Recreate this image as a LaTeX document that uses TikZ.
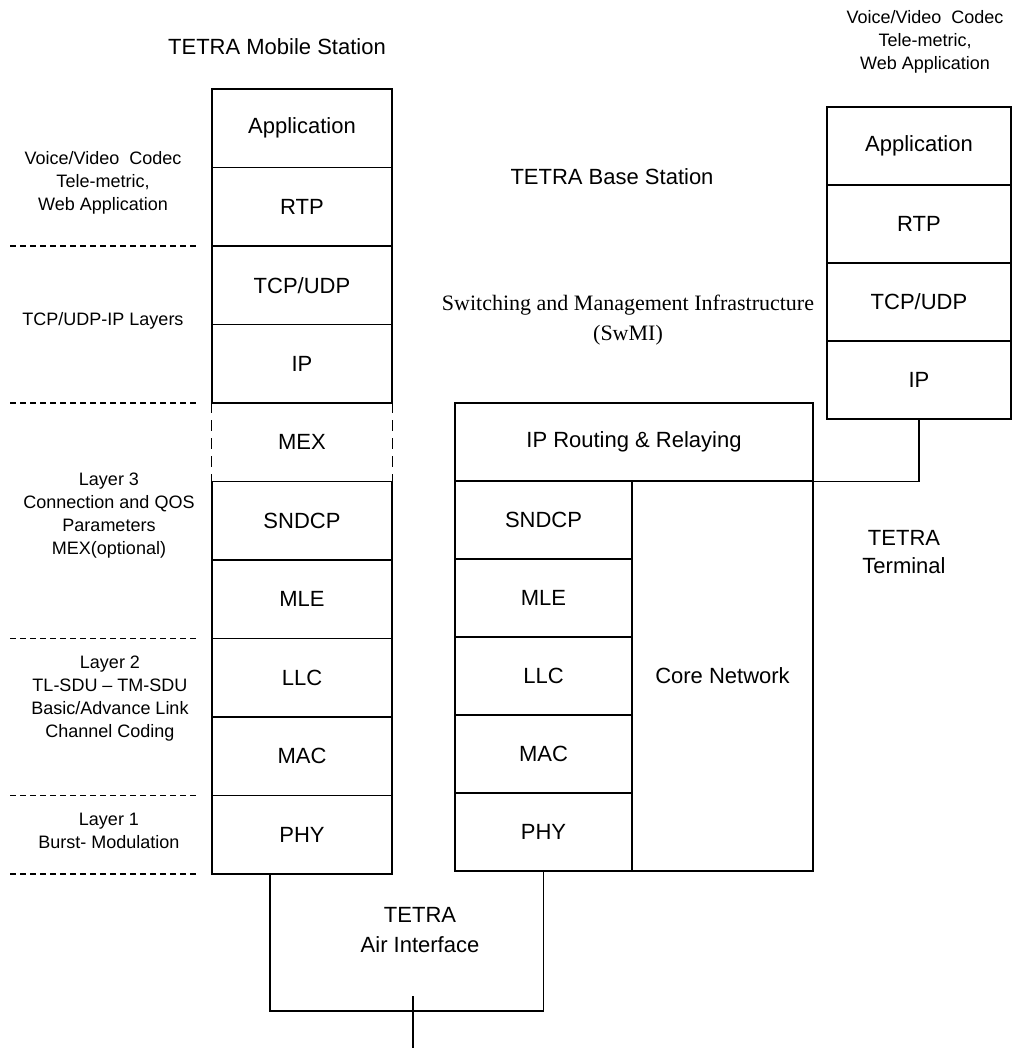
\documentclass[tikz,border=0pt]{standalone}
\usepackage{fontspec}
\setmainfont{Liberation Sans}
\newfontfamily\serifface{Liberation Serif}
\begin{document}
\begin{tikzpicture}[x=1pt,y=-1pt,
  box/.style={line width=1.3pt, inner sep=0pt, align=center, font=\fontsize{22}{26}\selectfont},
  mlayer/.style={box, draw, minimum width=180pt, minimum height=78.5pt},
  blayer/.style={box, draw, minimum width=177pt, minimum height=78pt},
  tlayer/.style={box, draw, minimum width=184pt, minimum height=78pt},
  side/.style={inner sep=0pt, align=center, font=\fontsize{18}{23}\selectfont},
  title/.style={inner sep=0pt, align=center, font=\fontsize{22}{29}\selectfont},
  sep/.style={line width=1.2pt, dash pattern=on 6pt off 4pt},
  wire/.style={line width=1.2pt}
]
\useasboundingbox (0,0) rectangle (1016,1048);

% ---------------- Mobile station stack ----------------
\node[mlayer] (mapp) at (302,128.25) {Application};
\node[mlayer] (mrtp) at (302,206.75) {RTP};
\node[mlayer] (mtcp) at (302,285.25) {TCP/UDP};
\node[mlayer] (mip)  at (302,363.75) {IP};
\node[box, minimum width=180pt, minimum height=78.5pt] (mmex) at (302,442.25) {MEX};
\draw[line width=1.3pt, dash pattern=on 11pt off 7pt] (mmex.north west) -- (mmex.south west);
\draw[line width=1.3pt, dash pattern=on 11pt off 7pt] (mmex.north east) -- (mmex.south east);
\node[mlayer] (msnd) at (302,520.75) {SNDCP};
\node[mlayer] (mmle) at (302,599.25) {MLE};
\node[mlayer] (mllc) at (302,677.75) {LLC};
\node[mlayer] (mmac) at (302,756.25) {MAC};
\node[mlayer] (mphy) at (302,834.75) {PHY};

% separators
\draw[sep] (10,246) -- (198,246);
\draw[sep] (10,403) -- (198,403);
\draw[sep] (10,638.5) -- (198,638.5);
\draw[sep] (10,795.5) -- (198,795.5);
\draw[sep] (10,874) -- (198,874);

% side texts
\node[title] (mtitle) at (277,47) {TETRA Mobile Station};
\node[side] (tapp) at (103,183) {Voice/Video\ \ Codec\\Tele-metric,\\Web Application};
\node[side] (ttcp) at (103,321) {TCP/UDP-IP Layers};
\node[side] (tl3) at (109,516) {Layer 3\\Connection and QOS\\Parameters\\MEX(optional)};
\node[side] (tl2) at (110,699) {Layer 2\\TL-SDU -- TM-SDU\\Basic/Advance Link\\Channel Coding};
\node[side] (tl1) at (109,831) {Layer 1\\Burst- Modulation};

% ---------------- Base station ----------------
\node[title] (btitle) at (612,177) {TETRA Base Station};
\node[title, font=\serifface\fontsize{22}{30}\selectfont] (swmi) at (628,320) {Switching and Management Infrastructure\\(SwMI)};
\node[box, draw, minimum width=358pt, minimum height=78pt] (iprr) at (634,442) {IP Routing \& Relaying};
\node[blayer] (bsnd) at (543.5,520) {SNDCP};
\node[blayer] (bmle) at (543.5,598) {MLE};
\node[blayer] (bllc) at (543.5,676) {LLC};
\node[blayer] (bmac) at (543.5,754) {MAC};
\node[blayer] (bphy) at (543.5,832) {PHY};
\node[box, draw, minimum width=181pt, minimum height=390pt] (core) at (722.5,676) {Core Network};

% ---------------- Terminal ----------------
\node[side] (tvoice) at (925,42) {Voice/Video\ \ Codec\\Tele-metric,\\Web Application};
\node[tlayer] (tapp2) at (919,146) {Application};
\node[tlayer] (trtp) at (919,224) {RTP};
\node[tlayer] (ttcp2) at (919,302) {TCP/UDP};
\node[tlayer] (tip) at (919,380) {IP};
\node[title, font=\fontsize{22}{28}\selectfont] (term) at (904,552) {TETRA\\Terminal};

\draw[wire] (tip.south) |- (iprr.south east);

% ---------------- Air interface ----------------
\node[title, font=\fontsize{22}{30}\selectfont] (air) at (420,930) {TETRA\\Air Interface};
\coordinate (airL) at (270,1011);
\draw[wire] (mphy.south -| airL) -- (airL) -| (bphy.south);
\coordinate (ant) at (413,996);
\coordinate (antb) at (413,1048);
\draw[wire] (ant) -- (antb);
\end{tikzpicture}
\end{document}
